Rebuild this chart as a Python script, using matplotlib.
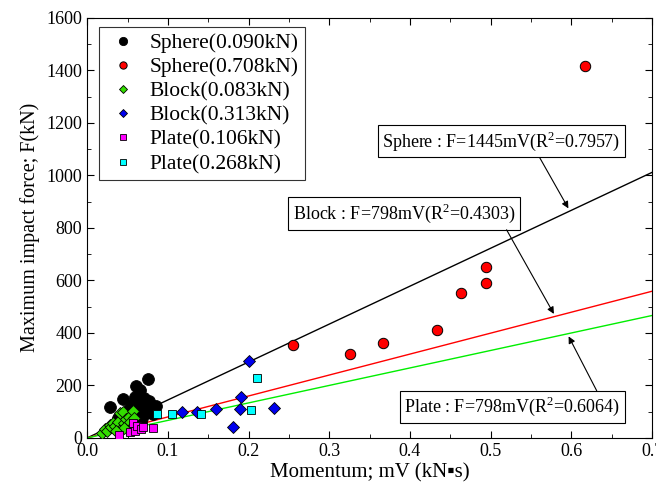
import matplotlib
matplotlib.use('Agg')
import matplotlib.pyplot as plt
from matplotlib.ticker import MultipleLocator
import numpy as np

plt.rcParams['font.family'] = ['Liberation Serif', 'DejaVu Serif']
plt.rcParams['mathtext.fontset'] = 'custom'
plt.rcParams['mathtext.rm'] = 'Liberation Serif'

# Sphere (0.090kN)
sph1_x = [0.028, 0.038, 0.044, 0.048, 0.052, 0.055, 0.057, 0.059, 0.061, 0.062,
          0.064, 0.065, 0.066, 0.068, 0.070, 0.072, 0.075, 0.077, 0.078, 0.080,
          0.085, 0.082, 0.058, 0.066, 0.072, 0.060, 0.054, 0.070]
sph1_y = [117, 75, 147, 95, 110, 85, 130, 157, 196, 120,
          100, 183, 140, 75, 110, 130, 225, 141, 100, 120,
          122, 90, 65, 60, 95, 100, 70, 150]
# Sphere (0.708kN)
sph2_x = [0.255, 0.326, 0.366, 0.433, 0.463, 0.494, 0.494, 0.617]
sph2_y = [354, 321, 363, 411, 551, 589, 650, 1417]
# Block (0.083kN)
blk1_x = [0.018, 0.022, 0.025, 0.028, 0.030, 0.032, 0.035, 0.038, 0.040, 0.041,
          0.044, 0.045, 0.048, 0.050, 0.052, 0.053, 0.055, 0.057, 0.058, 0.046, 0.036]
blk1_y = [20, 35, 28, 50, 40, 58, 45, 62, 30, 95,
          100, 55, 70, 48, 80, 62, 40, 103, 75, 38, 25]
# Block (0.313kN)
blk2_x = [0.117, 0.136, 0.160, 0.189, 0.181, 0.231, 0.190, 0.200]
blk2_y = [100, 100, 109, 110, 43, 113, 157, 293]
# Plate (0.106kN)
plt1_x = [0.039, 0.053, 0.059, 0.057, 0.062, 0.066, 0.069, 0.082]
plt1_y = [9, 24, 28, 56, 45, 33, 41, 37]
# Plate (0.268kN)
plt2_x = [0.087, 0.105, 0.141, 0.203, 0.210]
plt2_y = [91, 91, 91, 107, 227]

# fitted slopes (F = k * mV)
k_sphere = 1445
k_block = 798
k_plate = 666
x_fit = np.array([0.0, 0.7])

fig = plt.figure(figsize=(6.56, 4.97), dpi=100)
ax = fig.add_axes([0.133, 0.119, 0.861, 0.845])

ax.plot(x_fit, k_sphere * x_fit, color='black', lw=1, zorder=1)
ax.plot(x_fit, k_block * x_fit, color='red', lw=1, zorder=1)
ax.plot(x_fit, k_plate * x_fit, color='#00ee00', lw=1, zorder=1)

ax.plot(sph1_x, sph1_y, 'o', ms=8.5, mfc='black', mec='black', mew=0.6, label='Sphere(0.090kN)', zorder=3)
ax.plot(sph2_x, sph2_y, 'o', ms=7.5, mfc='red', mec='black', mew=0.7, label='Sphere(0.708kN)', zorder=3)
ax.plot(blk1_x, blk1_y, 'D', ms=6.5, mfc='#33dd00', mec='black', mew=0.6, label='Block(0.083kN)', zorder=3)
ax.plot(blk2_x, blk2_y, 'D', ms=6.5, mfc='#0000ee', mec='black', mew=0.6, label='Block(0.313kN)', zorder=3)
ax.plot(plt1_x, plt1_y, 's', ms=6, mfc='#ff00ff', mec='black', mew=0.6, label='Plate(0.106kN)', zorder=3)
ax.plot(plt2_x, plt2_y, 's', ms=6, mfc='#00ffff', mec='black', mew=0.6, label='Plate(0.268kN)', zorder=3)

box = dict(boxstyle='square,pad=0.25', fc='white', ec='black', lw=0.8)
ax.text(0.513, 1130, 'Sphere : F=1445mV(R$^2$=0.7957)', fontsize=13, ha='center', va='center', bbox=box)
ax.text(0.393, 855, 'Block : F=798mV(R$^2$=0.4303)', fontsize=13, ha='center', va='center', bbox=box)
ax.text(0.527, 118, 'Plate : F=798mV(R$^2$=0.6064)', fontsize=13, ha='center', va='center', bbox=box)

arrow = dict(arrowstyle='-|>', color='black', lw=0.8, mutation_scale=10)
ax.annotate('', xy=(0.598, 865), xytext=(0.559, 1077), arrowprops=arrow)
ax.annotate('', xy=(0.58, 463), xytext=(0.518, 802), arrowprops=arrow)
ax.annotate('', xy=(0.595, 396), xytext=(0.633, 170), arrowprops=arrow)

ax.set_xlim(0, 0.7)
ax.set_ylim(0, 1600)
ax.xaxis.set_major_locator(MultipleLocator(0.1))
ax.xaxis.set_minor_locator(MultipleLocator(0.05))
ax.yaxis.set_major_locator(MultipleLocator(200))
ax.yaxis.set_minor_locator(MultipleLocator(100))
ax.tick_params(which='both', direction='in', top=True, right=True, labelsize=13)
ax.tick_params(which='major', length=5)
ax.tick_params(which='minor', length=3)
ax.tick_params(axis='x', pad=4)
ax.set_xlabel('Momentum; mV (kN\u25aas)', fontsize=15, labelpad=2)
ax.set_ylabel('Maximum impact force; F(kN)', fontsize=14.5, labelpad=5)

leg = ax.legend(loc='upper left', bbox_to_anchor=(0.021, 0.979), borderaxespad=0,
                fontsize=15.5, markerscale=0.7, frameon=True, fancybox=False,
                edgecolor='black', handletextpad=0.45, borderpad=0.3,
                labelspacing=0.19, handlelength=1.6)
leg.get_frame().set_linewidth(0.8)

plt.savefig('out.png', dpi=100)
